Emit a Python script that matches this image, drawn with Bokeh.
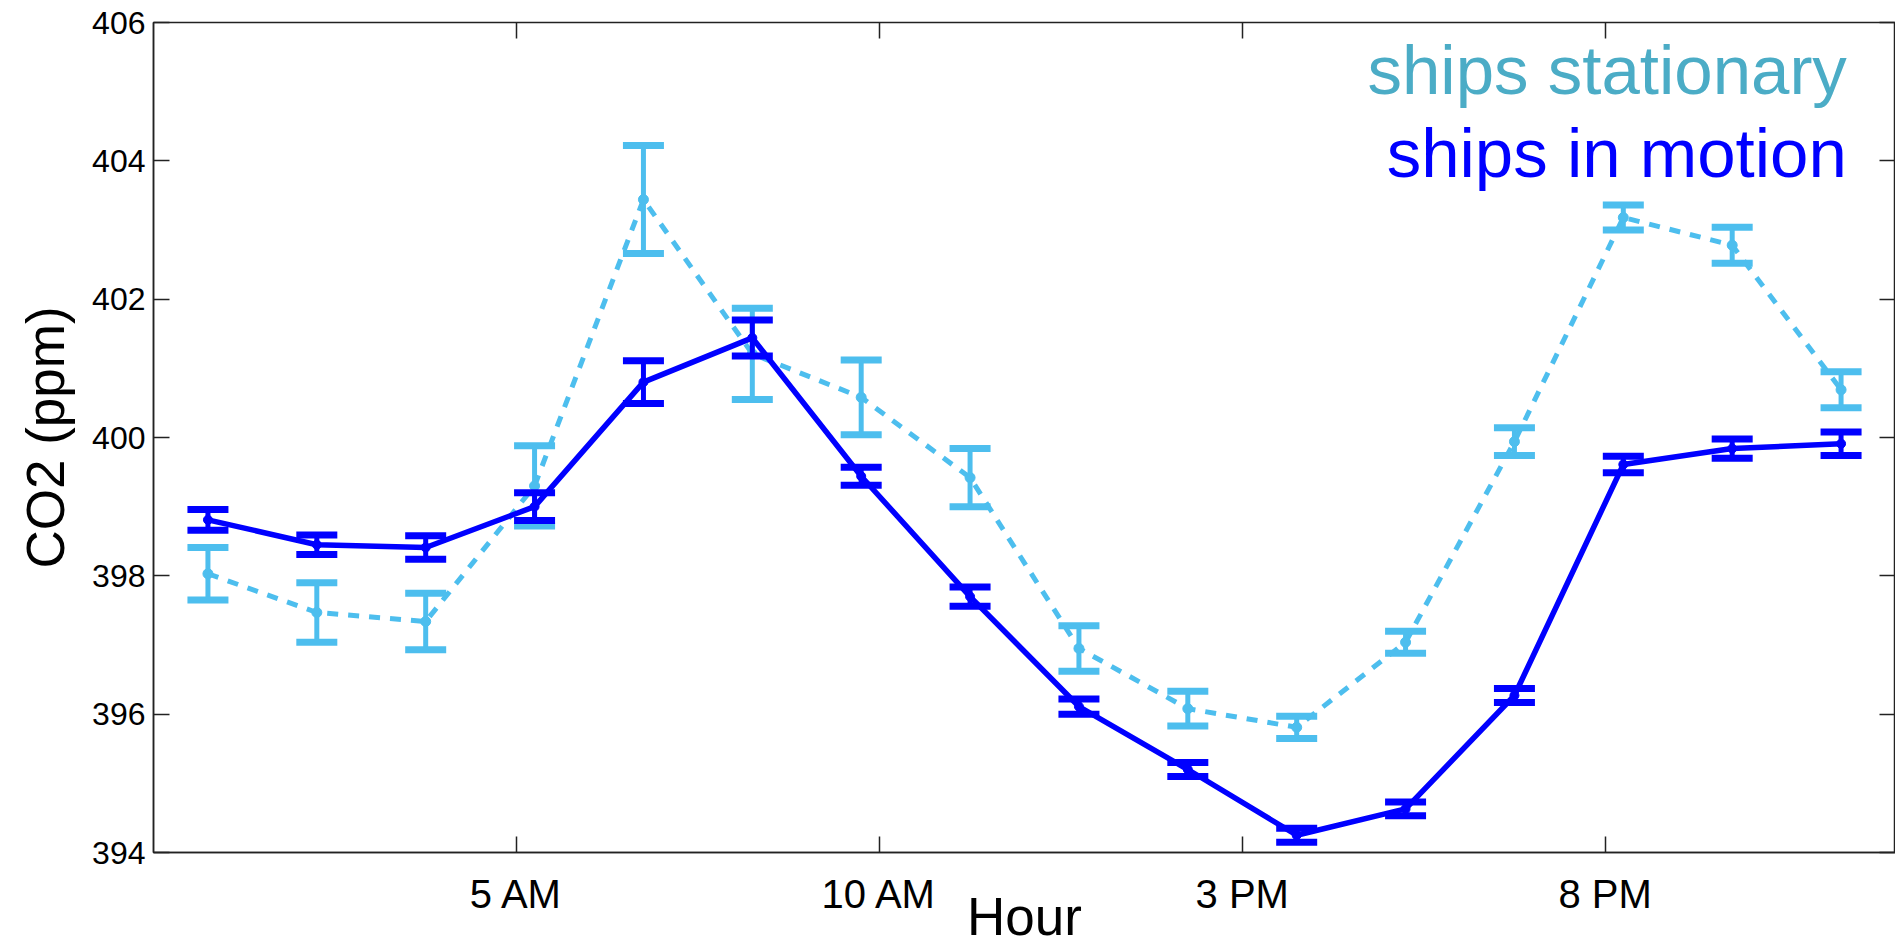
from bokeh.plotting import figure
from bokeh.models import LinearAxis, FixedTicker, Label, Range1d
from bokeh.embed import file_html
from bokeh.resources import INLINE

# ---- data ----
hours = [0.75, 2.25, 3.75, 5.25, 6.75, 8.25, 9.75, 11.25,
         12.75, 14.25, 15.75, 17.25, 18.75, 20.25, 21.75, 23.25]

motion = [398.81, 398.45, 398.41, 399.00, 400.80, 401.44, 399.44, 397.70,
          396.11, 395.20, 394.25, 394.63, 396.27, 399.61, 399.84, 399.91]
motion_err = [0.15, 0.14, 0.17, 0.20, 0.31, 0.26, 0.13, 0.14,
              0.11, 0.10, 0.10, 0.10, 0.10, 0.12, 0.14, 0.17]

stationary = [398.03, 397.47, 397.34, 399.30, 403.44, 401.21, 400.58, 399.42,
              396.95, 396.08, 395.81, 397.04, 399.94, 403.18, 402.78, 400.69]
stationary_err = [0.38, 0.43, 0.41, 0.58, 0.78, 0.66, 0.54, 0.42,
                  0.33, 0.25, 0.16, 0.16, 0.20, 0.18, 0.26, 0.26]

x_ticks = [5, 10, 15, 20]
x_tick_labels = ["5 AM", "10 AM", "3 PM", "8 PM"]
y_ticks = [394, 396, 398, 400, 402, 404, 406]

FONT = "Liberation Sans"
C_STAT = "#4DBEEE"
C_STAT_TXT = "#4BACC6"
C_MOT = "#0000FF"
C_AX = "#222222"

p = figure(width=1895, height=948, x_range=Range1d(0, 24), y_range=Range1d(394, 406),
           output_backend="svg", toolbar_location=None,
           min_border_left=153, min_border_right=0, min_border_top=22, min_border_bottom=96)
p.grid.visible = False
p.background_fill_color = "white"
p.border_fill_color = "white"
p.outline_line_color = C_AX
p.outline_line_width = 1.5

# axes (ticks inward like the original)
xa = p.xaxis[0]
xa.ticker = FixedTicker(ticks=x_ticks)
xa.major_label_overrides = {t: l for t, l in zip(x_ticks, x_tick_labels)}
ya = p.yaxis[0]
ya.ticker = FixedTicker(ticks=y_ticks)
for ax in (xa, ya):
    ax.major_tick_in = 16
    ax.major_tick_out = 0
    ax.minor_tick_line_color = None
    ax.axis_line_color = C_AX
    ax.axis_line_width = 1.5
    ax.major_tick_line_color = C_AX
    ax.major_tick_line_width = 1.5
    ax.major_label_text_font = FONT
    ax.major_label_text_color = "black"
    ax.axis_label_text_font = FONT
    ax.axis_label_text_font_style = "normal"
    ax.axis_label_text_color = "black"
xa.major_label_text_font_size = "40px"
xa.major_label_standoff = 19
xa.axis_label = "Hour"
xa.axis_label_text_font_size = "53px"
xa.axis_label_standoff = -32
ya.major_label_text_font_size = "32px"
ya.major_label_standoff = 8
ya.axis_label = "CO2 (ppm)"
ya.axis_label_text_font_size = "53px"
ya.axis_label_standoff = 14

top = LinearAxis(ticker=FixedTicker(ticks=x_ticks))
right = LinearAxis(ticker=FixedTicker(ticks=y_ticks))
for ax in (top, right):
    ax.major_tick_in = 16
    ax.major_tick_out = 0
    ax.minor_tick_line_color = None
    ax.axis_line_color = None
    ax.major_tick_line_color = C_AX
    ax.major_tick_line_width = 1.5
    ax.major_label_text_font_size = "1px"
    ax.major_label_text_color = None
    ax.major_label_standoff = 0
p.add_layout(top, "above")
p.add_layout(right, "right")

# ---- ships stationary ----
s_up = [v + e for v, e in zip(stationary, stationary_err)]
s_lo = [v - e for v, e in zip(stationary, stationary_err)]
p.line(hours, stationary, line_color=C_STAT, line_width=5, line_dash="11 10")
p.segment(hours, s_lo, hours, s_up, line_color=C_STAT, line_width=5)
p.scatter(hours, s_up, marker="dash", size=41, line_color=C_STAT, line_width=7)
p.scatter(hours, s_lo, marker="dash", size=41, line_color=C_STAT, line_width=7)
p.scatter(hours, stationary, marker="circle", size=10, fill_color=C_STAT, line_color=C_STAT)

# ---- ships in motion ----
m_up = [v + e for v, e in zip(motion, motion_err)]
m_lo = [v - e for v, e in zip(motion, motion_err)]
p.line(hours, motion, line_color=C_MOT, line_width=5.5)
p.segment(hours, m_lo, hours, m_up, line_color=C_MOT, line_width=5)
p.scatter(hours, m_up, marker="dash", size=41, line_color=C_MOT, line_width=7)
p.scatter(hours, m_lo, marker="dash", size=41, line_color=C_MOT, line_width=7)
p.scatter(hours, motion, marker="circle", size=9, fill_color=C_MOT, line_color=C_MOT)

# ---- legend texts ----
p.add_layout(Label(x=23.33, y=405.31, text="ships stationary", text_align="right",
                   text_baseline="alphabetic", text_font=FONT, text_font_size="69px",
                   text_color=C_STAT_TXT))
p.add_layout(Label(x=23.33, y=404.10, text="ships in motion", text_align="right",
                   text_baseline="alphabetic", text_font=FONT, text_font_size="69px",
                   text_color=C_MOT))

open("out.html", "w").write(file_html(p, INLINE))
